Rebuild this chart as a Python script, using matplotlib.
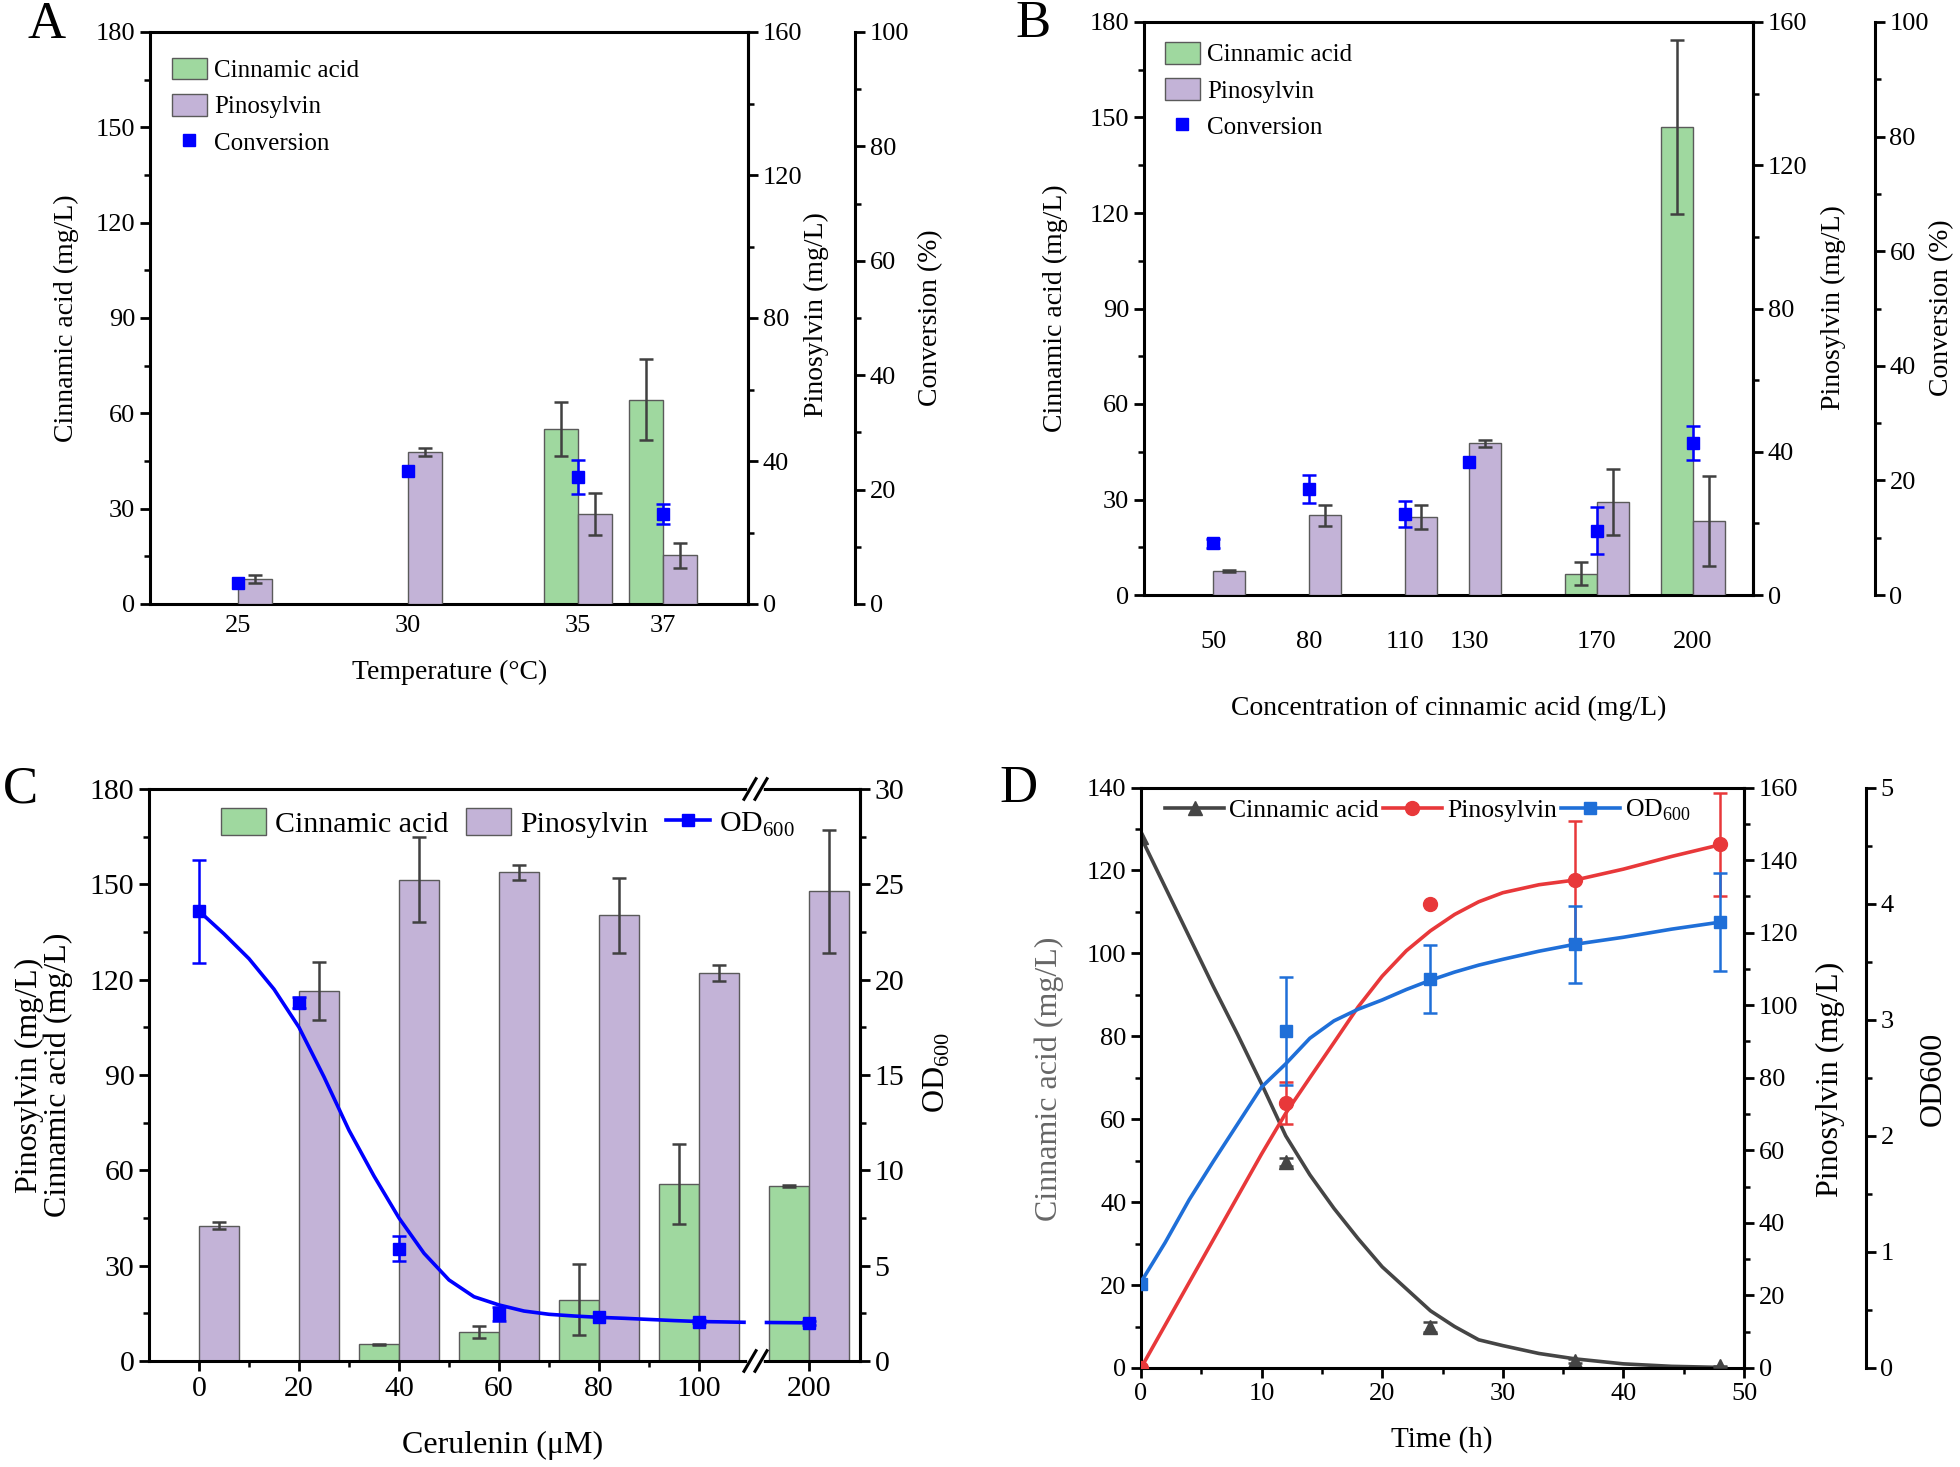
import numpy as np
import matplotlib
matplotlib.use('Agg')
from matplotlib import pyplot as plt
from matplotlib.lines import Line2D
from matplotlib.patches import Patch
from matplotlib.ticker import MultipleLocator

plt.rcParams['font.family'] = ['Liberation Serif', 'DejaVu Serif']
plt.rcParams['mathtext.fontset'] = 'custom'
plt.rcParams['mathtext.rm'] = 'Liberation Serif'

# ---------------- data ----------------
# A: temperature
temps = ['25', '30', '35', '37']
a_cin = [0, 0, 55.1, 64.3]
a_cin_err = [0, 0, 8.6, 12.7]
a_pin = [7.0, 42.5, 25.2, 13.6]
a_pin_err = [1.2, 1.2, 5.9, 3.4]
a_conv = [3.6, 23.2, 22.2, 15.7]
a_conv_err = [0, 0, 3.0, 1.8]

# B: cinnamic acid feed
conc = [50, 80, 110, 130, 170, 200]
b_cin = [0, 0, 0, 0, 6.7, 147.0]
b_cin_err = [0, 0, 0, 0, 3.7, 27.4]
b_pin = [6.6, 22.2, 21.7, 42.4, 25.9, 20.6]
b_pin_err = [0.3, 2.9, 3.4, 1.0, 9.2, 12.6]
b_conv = [9.0, 18.5, 14.1, 23.2, 11.2, 26.5]
b_conv_err = [0.8, 2.5, 2.3, 0, 4.1, 3.0]

# C: cerulenin
cerulenin = [0, 20, 40, 60, 80, 100, 200]
c_cin = [0, 0, 5.2, 9.1, 19.3, 55.7, 55.2]
c_cin_err = [0, 0, 0.3, 2.0, 11.1, 12.7, 0.3]
c_pin = [42.6, 116.5, 151.5, 153.8, 140.2, 122.0, 147.8]
c_pin_err = [1.2, 9.2, 13.4, 2.3, 11.7, 2.5, 19.4]
c_od = [23.6, 18.8, 5.9, 2.47, 2.29, 2.07, 2.0]
c_od_err = [2.7, 0.3, 0.63, 0.35, 0, 0.1, 0.1]
# fitted OD curve
c_fit_x = [0, 5, 10, 15, 20, 25, 30, 35, 40, 45, 50, 55, 60, 65, 70, 75, 80, 85, 90, 95, 100, 105, 109]
c_fit_y = [23.6, 22.4, 21.1, 19.5, 17.5, 14.9, 12.1, 9.7, 7.5, 5.65, 4.25, 3.37, 2.94, 2.62, 2.45,
           2.36, 2.29, 2.24, 2.18, 2.12, 2.07, 2.05, 2.03]
c_fit_tail = [2.02, 2.0]

# D: time course
time_h = [0, 12, 24, 36, 48]
d_cin = [128, 49.6, 10.0, 1.6, 0.4]
d_cin_err = [0, 1.0, 1.2, 0.5, 0.2]
d_pin = [0, 73.1, 127.9, 134.4, 144.3]
d_pin_err = [0, 5.8, 0, 16.4, 14.2]
d_od = [0.72, 2.905, 3.35, 3.65, 3.84]
d_od_err = [0, 0.465, 0.29, 0.33, 0.42]
# fitted curves
d_fit_t = [0, 2, 4, 6, 8, 10, 12, 14, 16, 18, 20, 22, 24, 26, 28, 30, 33, 36, 40, 44, 48]
d_fit_cin = [128, 116, 104, 92, 80.5, 68.5, 56, 46.6, 38.5, 31.2, 24.4, 19.1, 13.8, 10.0, 6.8,
             5.4, 3.5, 2.2, 1.0, 0.4, 0.15]
d_fit_pin = [0, 11.8, 23.6, 35.4, 47.2, 59, 70.2, 80, 89.7, 99.5, 108, 115, 120.5, 125, 128.5,
             131, 133.2, 134.5, 137.5, 141, 144.2]
d_fit_od = [0.74, 1.08, 1.45, 1.78, 2.1, 2.42, 2.62, 2.84, 2.99, 3.09, 3.17, 3.26, 3.34, 3.41,
            3.47, 3.52, 3.59, 3.65, 3.71, 3.78, 3.84]

GREEN = '#9fd89f'
PURPLE = '#c3b3d7'
EDGE = '#5a5a5a'
ERR = '#404040'
BLUE = '#0000ff'
D_GRAY = '#454545'
D_RED = '#e8383a'
D_BLUE = '#1f6fd8'

W, H = 1960, 1467
fig = plt.figure(figsize=(W / 100, H / 100), dpi=100)


def px_box(l, t, r, b):
    return [l / W, 1 - b / H, (r - l) / W, (b - t) / H]


def fig_text(x, y, s, size, rot=0, **kw):
    fig.text(x / W, 1 - y / H, s, ha='center', va='center', fontsize=size, rotation=rot, **kw)


def style_axis(ax, size):
    for sp in ax.spines.values():
        sp.set_linewidth(2.2)
    ax.tick_params(which='major', direction='out', width=2, length=7, labelsize=size)
    ax.tick_params(which='minor', direction='out', width=1.8, length=4)


def twin(ax, offset=None):
    t = ax.twinx()
    for k in ('left', 'top', 'bottom'):
        t.spines[k].set_visible(False)
    if offset is not None:
        t.spines['right'].set_position(('axes', offset))
    return t


def err(ax, x, y, e, color, lw=1.8):
    x, y, e = map(np.asarray, (x, y, e))
    m = e > 0
    ax.errorbar(x[m], y[m], yerr=e[m], fmt='none', ecolor=color, elinewidth=lw,
                capsize=5, capthick=lw, zorder=5)


def yticks(ax, top, major, minor):
    ax.set_ylim(0, top)
    ax.yaxis.set_major_locator(MultipleLocator(major))
    ax.yaxis.set_minor_locator(MultipleLocator(minor))


def bar_legend(ax, anchor):
    ax.legend(handles=[Patch(facecolor=GREEN, edgecolor=EDGE, label='Cinnamic acid'),
                       Patch(facecolor=PURPLE, edgecolor=EDGE, label='Pinosylvin'),
                       Line2D([], [], ls='none', marker='s', color=BLUE, ms=8, label='Conversion')],
              loc='upper left', bbox_to_anchor=anchor, frameon=False, fontsize=18,
              borderpad=0, borderaxespad=0, handlelength=1.4, handleheight=0.95,
              handletextpad=0.3, labelspacing=0.48)


# ---------------- A ----------------
axA = fig.add_axes(px_box(150, 32, 748, 604))
axAp = twin(axA)
axAc = twin(axA, 1.179)
posA = np.array([0, 1, 2, 2.5])   # 37 °C sits half a step after 35 °C
bw = 0.2
axA.bar(posA - bw / 2, a_cin, bw, color=GREEN, edgecolor=EDGE, lw=1)
err(axA, posA - bw / 2, a_cin, a_cin_err, ERR)
axAp.bar(posA + bw / 2, a_pin, bw, color=PURPLE, edgecolor=EDGE, lw=1)
err(axAp, posA + bw / 2, a_pin, a_pin_err, ERR)
err(axAc, posA, a_conv, a_conv_err, BLUE)
axAc.plot(posA, a_conv, 's', color=BLUE, ms=8, zorder=6)
axA.set_xlim(-0.52, 3.0)
axA.set_xticks(posA, temps)
for ax in (axA, axAp, axAc):
    style_axis(ax, 19)
axA.tick_params(axis='x', length=0, pad=8)
yticks(axA, 180, 30, 15)
yticks(axAp, 160, 40, 20)
yticks(axAc, 100, 20, 10)
bar_legend(axAc, (0.036, 0.955))
fig_text(66, 318, 'Cinnamic acid (mg/L)', 20, 90)
fig_text(816, 315, 'Pinosylvin (mg/L)', 20, 90)
fig_text(931, 318, 'Conversion (%)', 20, 90)
fig_text(450, 672, 'Temperature (°C)', 20)
fig_text(47, 25, 'A', 38)

# ---------------- B ----------------
axB = fig.add_axes(px_box(1144, 22, 1753, 595))
axBp = twin(axB)
axBc = twin(axB, 1.2)
xb = np.array(conc, dtype=float)
bwB = 10
axB.bar(xb - bwB / 2, b_cin, bwB, color=GREEN, edgecolor=EDGE, lw=1)
err(axB, xb - bwB / 2, b_cin, b_cin_err, ERR)
axBp.bar(xb + bwB / 2, b_pin, bwB, color=PURPLE, edgecolor=EDGE, lw=1)
err(axBp, xb + bwB / 2, b_pin, b_pin_err, ERR)
err(axBc, xb, b_conv, b_conv_err, BLUE)
axBc.plot(xb, b_conv, 's', color=BLUE, ms=8, zorder=6)
axB.set_xlim(28.4, 218.8)
axB.set_xticks(xb, [str(c) for c in conc])
for ax in (axB, axBp, axBc):
    style_axis(ax, 19)
axB.tick_params(axis='x', length=0, pad=26)
yticks(axB, 180, 30, 15)
yticks(axBp, 160, 40, 20)
yticks(axBc, 100, 20, 10)
bar_legend(axBc, (0.034, 0.965))
fig_text(1055, 308, 'Cinnamic acid (mg/L)', 20, 90)
fig_text(1833, 308, 'Pinosylvin (mg/L)', 20, 90)
fig_text(1942, 308, 'Conversion (%)', 20, 90)
fig_text(1449, 708, 'Concentration of cinnamic acid (mg/L)', 20)
fig_text(1033, 24, 'B', 38)

# ---------------- C ----------------
axC = fig.add_axes(px_box(149, 789, 860, 1361))
axCo = twin(axC)
brk_at, x200 = 111.3, 122        # broken axis: 200 µM drawn at 122
posC = np.array([c if c <= 100 else x200 for c in cerulenin], dtype=float)
bwC = 8
axC.bar(posC - bwC / 2, c_cin, bwC, color=GREEN, edgecolor=EDGE, lw=1)
err(axC, posC - bwC / 2, c_cin, c_cin_err, ERR)
axC.bar(posC + bwC / 2, c_pin, bwC, color=PURPLE, edgecolor=EDGE, lw=1)
err(axC, posC + bwC / 2, c_pin, c_pin_err, ERR)
axCo.plot(c_fit_x, c_fit_y, color=BLUE, lw=2.6, zorder=6)
axCo.plot([brk_at + 2.2, x200], c_fit_tail, color=BLUE, lw=2.6, zorder=6)
err(axCo, posC, c_od, c_od_err, BLUE)
axCo.plot(posC, c_od, 's', color=BLUE, ms=8, zorder=7)
axC.set_xlim(-10, 132.2)
axC.set_xticks(posC, [str(c) for c in cerulenin])
axC.set_xticks([10, 30, 50, 70, 90], minor=True)
for ax in (axC, axCo):
    style_axis(ax, 21.5)
yticks(axC, 180, 30, 15)
yticks(axCo, 30, 5, 2.5)
tr = axCo.get_xaxis_transform()
for yy in (0, 1):
    axCo.plot([brk_at - 1.1, brk_at + 1.1], [yy, yy], color='white', lw=4, transform=tr,
              clip_on=False, zorder=20)
    for xs in (brk_at - 1.1, brk_at + 1.1):
        axCo.plot([xs - 1.2, xs + 1.2], [yy - 0.018, yy + 0.018], color='black', lw=2.2,
                  transform=tr, clip_on=False, zorder=21)
axCo.legend(handles=[Patch(facecolor=GREEN, edgecolor=EDGE, label='Cinnamic acid'),
                     Patch(facecolor=PURPLE, edgecolor=EDGE, label='Pinosylvin'),
                     Line2D([], [], marker='s', color=BLUE, lw=2.6, ms=8, label='OD$_{600}$')],
            loc='center', bbox_to_anchor=(0.505, 0.94), ncol=3, frameon=False, fontsize=21.5,
            handlelength=1.5, handleheight=1.0, handletextpad=0.3, columnspacing=0.6)
fig_text(44, 1075, 'Pinosylvin (mg/L)\nCinnamic acid (mg/L)', 23, 90, linespacing=0.95)
fig_text(937, 1072, 'OD$_{600}$', 23, 90)
fig_text(503, 1445, 'Cerulenin (μM)', 23)
fig_text(20, 790, 'C', 38)

# ---------------- D ----------------
axD = fig.add_axes(px_box(1141, 787.5, 1744, 1368))
axDp = twin(axD)
axDo = twin(axD, 1.202)
axD.plot(d_fit_t, d_fit_cin, color=D_GRAY, lw=2.6)
err(axD, time_h, d_cin, d_cin_err, D_GRAY)
axD.plot(time_h, d_cin, '^', color=D_GRAY, ms=10)
axDp.plot(d_fit_t, d_fit_pin, color=D_RED, lw=2.6)
err(axDp, time_h, d_pin, d_pin_err, D_RED)
axDp.plot(time_h, d_pin, 'o', color=D_RED, ms=10)
axDo.plot(d_fit_t, d_fit_od, color=D_BLUE, lw=2.6)
err(axDo, time_h, d_od, d_od_err, D_BLUE)
axDo.plot(time_h, d_od, 's', color=D_BLUE, ms=9)
axD.set_xlim(0, 50)
axD.xaxis.set_major_locator(MultipleLocator(10))
axD.xaxis.set_minor_locator(MultipleLocator(5))
for ax in (axD, axDp, axDo):
    style_axis(ax, 19)
yticks(axD, 140, 20, 10)
yticks(axDp, 160, 20, 10)
yticks(axDo, 5, 1, 0.5)
axDo.legend(handles=[Line2D([], [], marker='^', color=D_GRAY, lw=2.6, ms=10, label='Cinnamic acid'),
                     Line2D([], [], marker='o', color=D_RED, lw=2.6, ms=10, label='Pinosylvin'),
                     Line2D([], [], marker='s', color=D_BLUE, lw=2.6, ms=9, label='OD$_{600}$')],
            loc='center', bbox_to_anchor=(0.476, 0.96), ncol=3, frameon=False, fontsize=18.5,
            handlelength=2.3, handletextpad=0.2, columnspacing=0.15)
fig_text(1049, 1079, 'Cinnamic acid (mg/L)', 23, 90, color='#666666')
fig_text(1830, 1079, 'Pinosylvin (mg/L)', 23, 90)
fig_text(1933, 1079, 'OD600', 23, 90)
fig_text(1442, 1440, 'Time (h)', 21)
fig_text(1018, 789, 'D', 38)

fig.savefig('out.png', dpi=100)
